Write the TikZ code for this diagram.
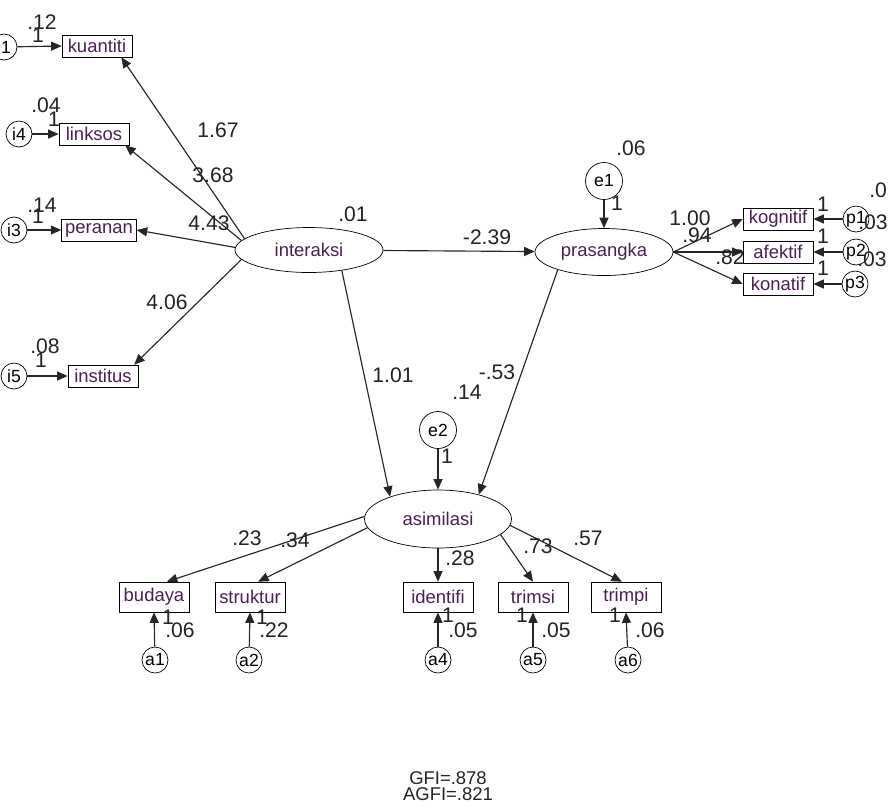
\documentclass[tikz,border=0pt]{standalone}
\usepackage{fontspec}
\setmainfont{Liberation Sans}
\usetikzlibrary{arrows.meta,shapes.geometric}
\definecolor{varname}{RGB}{75,30,85}
\definecolor{numcol}{RGB}{35,35,35}

\begin{document}
\begin{tikzpicture}[
  x=0.02cm,y=-0.02cm,
  >={Triangle[length=2.1mm,width=1.8mm]},
  font=\fontsize{10.5}{12}\selectfont,
  obs/.style={draw,rectangle,inner xsep=2pt,inner ysep=0pt,minimum width=14mm,
    minimum height=4.4mm,text=varname},
  obsb/.style={obs,minimum height=6mm},
  lat/.style={draw,ellipse,inner sep=0pt,text=varname},
  err/.style={draw,circle,inner sep=0pt,minimum size=5.2mm,font=\fontsize{10}{12}\selectfont},
  errb/.style={err,minimum size=7.4mm},
  num/.style={inner sep=0pt,text=numcol,font=\fontsize{12}{14}\selectfont},
  arr/.style={->,line width=0.65pt,draw=black!85}
]
\useasboundingbox (0,0) rectangle (888,806);
\clip (0,0) rectangle (888,806);

\node[obs] (kuantiti) at (97,46) {kuantiti};
\node[obs] (linksos) at (94,134) {linksos};
\node[obs] (peranan) at (99,230) {peranan};
\node[obs] (institus) at (103,376) {institus};
\node[err] (i1) at (4,47) {i1};
\node[err] (i4) at (19,134) {i4};
\node[err] (i3) at (14,230) {i3};
\node[err] (i5) at (14,376) {i5};

\node[lat,minimum width=29.6mm,minimum height=9mm] (interaksi) at (309,250) {interaksi};
\node[lat,minimum width=27.6mm,minimum height=9.4mm] (prasangka) at (604,252) {prasangka};
\node[lat,minimum width=29.4mm,minimum height=11.6mm] (asimilasi) at (438,519) {asimilasi};
\node[errb] (e1) at (604,181) {e1};
\node[errb] (e2) at (438,430) {e2};

\node[obs] (kognitif) at (778,219) {kognitif};
\node[obs] (afektif) at (778,252) {afektif};
\node[obs] (konatif) at (778,284) {konatif};
\node[err] (p1) at (856,219) {p1};
\node[err] (p2) at (856,252) {p2};
\node[err] (p3) at (855,284) {p3};

\node[obsb] (budaya) at (154,597) {budaya};
\node[obsb] (struktur) at (250,597) {struktur};
\node[obsb] (identifi) at (438,597) {identifi};
\node[obsb] (trimsi) at (533,597) {trimsi};
\node[obsb] (trimpi) at (626,597) {trimpi};
\node[err] (a1) at (155,660) {a1};
\node[err] (a2) at (249,660) {a2};
\node[err] (a4) at (438,660) {a4};
\node[err] (a5) at (533,660) {a5};
\node[err] (a6) at (628,660) {a6};

\draw[arr] (i1) -- (kuantiti.west);
\draw[arr] (i4) -- (linksos.west);
\draw[arr] (i3) -- (peranan.west);
\draw[arr] (i5) -- (institus.west);
\draw[arr] (interaksi.170) -- (kuantiti.-25);
\draw[arr] (interaksi.172) -- (linksos.-20);
\draw[arr] (interaksi.178) -- (peranan.east);
\draw[arr] (interaksi.188) -- (institus.20);
\draw[arr] (interaksi) -- (prasangka);
\draw[arr] (interaksi.-32) -- (asimilasi.155);
\draw[arr] (prasangka.201) -- (asimilasi.31);
\draw[arr] (e1) -- (prasangka);
\draw[arr] (e2) -- (asimilasi);
\draw[arr] (prasangka.east) -- (kognitif.west);
\draw[arr] (prasangka.east) -- (afektif.west);
\draw[arr] (prasangka.east) -- (konatif.west);
\draw[arr] (p1) -- (kognitif.east);
\draw[arr] (p2) -- (afektif.east);
\draw[arr] (p3) -- (konatif.east);
\draw[arr] (asimilasi.178) -- (budaya.50);
\draw[arr] (asimilasi.187) -- (struktur.62);
\draw[arr] (asimilasi.south) -- (identifi.north);
\draw[arr] (asimilasi.-14) -- (trimsi.north);
\draw[arr] (asimilasi.-5) -- (trimpi.105);
\draw[arr] (a1) -- (budaya.south);
\draw[arr] (a2) -- (struktur.south);
\draw[arr] (a4) -- (identifi.south);
\draw[arr] (a5) -- (trimsi.south);
\draw[arr] (a6) -- (trimpi.south);

\node[num] (vi1) at (42,22) {.12};
\node[num] (wi1) at (38,35) {1};
\node[num] (vi4) at (46,105) {.04};
\node[num] (wi4) at (54,119) {1};
\node[num] (vi3) at (42,205) {.14};
\node[num] (wi3) at (38,216) {1};
\node[num] (vi5) at (45,346) {.08};
\node[num] (wi5) at (41,360) {1};
\node[num] (lkua) at (218,130) {1.67};
\node[num] (llin) at (213,175) {3.68};
\node[num] (lper) at (209,223) {4.43};
\node[num] (lins) at (167,302) {4.06};
\node[num] (vint) at (353,214) {.01};
\node[num] (lpra) at (487,237) {-2.39};
\node[num] (ve1) at (631,148) {.06};
\node[num] (we1) at (617,203) {1};
\node[num] (lkog) at (690,218) {1.00};
\node[num] (lafe) at (697,235) {.94};
\node[num] (lkon) at (730,257) {.82};
\node[num] (wp1) at (823,204) {1};
\node[num] (wp2) at (823,236) {1};
\node[num] (wp3) at (823,268) {1};
\node[num,anchor=west] (vp1) at (869,190) {.0};
\node[num,anchor=east] (vp2) at (888,222) {.03};
\node[num,anchor=east] (vp3) at (887,259) {.03};
\node[num] (lasi) at (393,375) {1.01};
\node[num] (lasp) at (497,372) {-.53};
\node[num] (ve2) at (467,392) {.14};
\node[num] (we2) at (447,456) {1};
\node[num] (lbud) at (247,538) {.23};
\node[num] (lstr) at (295,540) {.34};
\node[num] (lide) at (460,558) {.28};
\node[num] (ltrs) at (538,546) {.73};
\node[num] (ltrp) at (588,538) {.57};
\node[num] (wa1) at (168,617) {1};
\node[num] (va1) at (180,630) {.06};
\node[num] (wa2) at (262,617) {1};
\node[num] (va2) at (274,630) {.22};
\node[num] (wa4) at (448,615) {1};
\node[num] (va4) at (463,630) {.05};
\node[num] (wa5) at (522,615) {1};
\node[num] (va5) at (556,630) {.05};
\node[num] (wa6) at (615,615) {1};
\node[num] (va6) at (650,630) {.06};

\node[inner sep=0pt,align=center,text=numcol,font=\fontsize{10.5}{9.5}\selectfont] (fit) at (448,786) {GFI=.878\\AGFI=.821};
\end{tikzpicture}
\end{document}
